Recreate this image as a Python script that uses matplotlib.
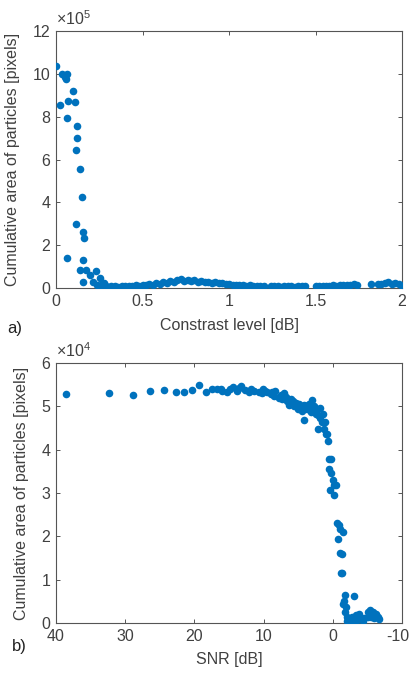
import numpy as np
import matplotlib
matplotlib.use('Agg')
import matplotlib.pyplot as plt
import matplotlib.transforms as mtransforms

plt.rcParams['font.family'] = ['Liberation Sans', 'DejaVu Sans']
plt.rcParams['mathtext.fontset'] = 'custom'
plt.rcParams['mathtext.rm'] = 'Liberation Sans'
plt.rcParams['axes.unicode_minus'] = False

# --- panel a) : cumulative area vs contrast level (values x 1e5) ---
contrast_head = [0.000, 0.025, 0.035, 0.050, 0.055, 0.064, 0.071, 0.061, 0.098, 0.110,
                 0.064, 0.119, 0.119, 0.117, 0.140, 0.150, 0.117, 0.158, 0.164, 0.158,
                 0.140, 0.173, 0.158, 0.198, 0.229, 0.252, 0.216, 0.275, 0.285, 0.304,
                 0.320, 0.235, 0.260]
area_head = [10.35, 8.55, 10.0, 9.85, 9.75, 10.0, 8.75, 7.95, 9.2, 8.7,
             1.40, 7.55, 7.00, 6.45, 5.55, 4.25, 3.00, 2.63, 2.35, 1.32,
             0.85, 0.85, 0.30, 0.60, 0.80, 0.48, 0.28, 0.25, 0.13, 0.05,
             0.08, 0.15, 0.12]

contrast_tail = [0.34, 0.36, 0.38, 0.40, 0.42, 0.44, 0.46, 0.48, 0.50, 0.52,
                 0.54, 0.56, 0.58, 0.60, 0.62, 0.64, 0.66, 0.68, 0.70, 0.72,
                 0.74, 0.76, 0.78, 0.80, 0.82, 0.84, 0.86, 0.88, 0.90, 0.92,
                 0.94, 0.96, 0.98, 1.00, 1.02, 1.04, 1.06, 1.08, 1.10, 1.12,
                 1.14, 1.16, 1.18, 1.20, 1.24, 1.26, 1.28, 1.30, 1.32, 1.34,
                 1.36, 1.38, 1.40, 1.42, 1.44, 1.50, 1.52, 1.54, 1.56, 1.58,
                 1.60, 1.62, 1.64, 1.66, 1.68, 1.70, 1.72, 1.74, 1.82, 1.86,
                 1.88, 1.90, 1.92, 1.94, 1.96, 1.98, 2.00]
area_tail = [0.10, 0.06, 0.09, 0.07, 0.11, 0.09, 0.13, 0.11, 0.15, 0.13,
             0.18, 0.16, 0.22, 0.20, 0.27, 0.25, 0.31, 0.29, 0.36, 0.40,
             0.34, 0.38, 0.33, 0.36, 0.30, 0.32, 0.27, 0.29, 0.24, 0.26,
             0.21, 0.22, 0.18, 0.20, 0.15, 0.16, 0.12, 0.14, 0.10, 0.12,
             0.09, 0.11, 0.08, 0.10, 0.08, 0.07, 0.09, 0.06, 0.08, 0.07,
             0.09, 0.06, 0.08, 0.07, 0.09, 0.08, 0.10, 0.09, 0.11, 0.10,
             0.12, 0.11, 0.13, 0.15, 0.12, 0.16, 0.18, 0.14, 0.17, 0.20,
             0.18, 0.22, 0.26, 0.19, 0.24, 0.17, 0.10]

# --- panel b) : cumulative area vs SNR (values x 1e4) ---
snr = [38.5, 32.4, 28.9, 26.4, 24.4, 22.7, 21.5, 20.3, 19.3, 18.4,
       17.5, 16.7, 16.0, 15.3, 14.4, 13.9, 13.3, 12.7, 12.1, 11.4,
       10.7, 10.05, 9.5, 9.0, 8.5, 8.3, 7.8, 7.3, 7.0, 6.6,
       6.4, 6.0, 5.6, 5.4, 5.1, 4.6, 4.15, 4.15, 3.7, 3.45,
       2.95, 3.2, 2.7, 2.46, 2.2, 2.2, 1.8, 1.45, 1.3, 1.1,
       1.0, 0.77, 0.85, 0.55, 0.3, 0.5, 0.3, 0.05, -0.1, -0.43,
       0.4, -0.2, -0.58, -0.9, -1.05, -1.4, -0.8, -1.05, -1.3, -1.16,
       -1.3, -1.74, -3.0, -1.64, -1.4, -1.9, -1.74, -2.1, -2.6, -3.3,
       -3.8, -4.55, -5.3, -5.75, -6.2, -6.5, -6.0, -2.8, -3.5, -2.35,
       -5.5, -4.0, -5.0, -6.6, -5.0, -2.0, -4.3, -3.0,
       11.8, 10.3, 9.8, 8.8, 7.5, 6.8, 6.2, 5.8, 4.9, 4.4,
       3.9, 3.0, 2.5, 1.6, 1.9, 16.2, 14.9, 13.6]
area_snr = [5.28, 5.30, 5.26, 5.35, 5.37, 5.33, 5.32, 5.37, 5.49, 5.34,
            5.41, 5.40, 5.36, 5.33, 5.44, 5.36, 5.46, 5.37, 5.33, 5.36,
            5.33, 5.39, 5.33, 5.29, 5.25, 5.35, 5.20, 5.16, 5.31, 5.12,
            5.04, 5.16, 5.01, 5.08, 4.94, 5.01, 5.04, 4.68, 4.94, 5.05,
            5.14, 4.86, 5.01, 4.83, 4.79, 4.48, 4.72, 4.83, 4.48, 4.63,
            4.37, 4.20, 4.35, 3.79, 3.79, 3.56, 3.45, 3.30, 3.18, 3.18,
            3.08, 2.96, 2.30, 2.27, 2.18, 2.10, 1.93, 1.62, 1.60, 1.16,
            1.15, 0.65, 0.62, 0.51, 0.43, 0.37, 0.25, 0.14, 0.06, 0.18,
            0.21, 0.11, 0.29, 0.25, 0.21, 0.14, 0.11, 0.14, 0.06, 0.06,
            0.14, 0.11, 0.14, 0.10, 0.25, 0.05, 0.05, 0.02,
            5.40, 5.30, 5.36, 5.32, 5.27, 5.22, 5.10, 5.13, 5.06, 4.90,
            5.00, 4.92, 4.95, 4.65, 4.97, 5.40, 5.40, 5.42]

a_xticks = [0, 0.5, 1, 1.5, 2]
a_xticklabels = ['0', '0.5', '1', '1.5', '2']
a_yticks = [0, 2, 4, 6, 8, 10, 12]
b_xticks = [40, 30, 20, 10, 0, -10]
b_xticklabels = ['40', '30', '20', '10', '0', '-10']
b_yticks = [0, 1, 2, 3, 4, 5, 6]

blue = '#0072BD'
axis_col = '#555555'
text_col = '#404040'
fs = 11.5


def style_axes(ax):
    for sp in ax.spines.values():
        sp.set_color(axis_col)
        sp.set_linewidth(0.8)
    ax.tick_params(direction='in', length=3, width=0.7, color=axis_col,
                   labelcolor=text_col, labelsize=fs, top=True, right=True, pad=4)


fig = plt.figure(figsize=(4.12, 6.77), dpi=100)

ax1 = fig.add_axes([0.136, 0.5746, 0.840, 0.3796])
ax1.scatter(contrast_head + contrast_tail, area_head + area_tail, s=30, color=blue, linewidths=0, zorder=3)
ax1.set_xlim(0, 2)
ax1.set_ylim(0, 12)
ax1.set_xticks(a_xticks)
ax1.set_xticklabels(a_xticklabels)
ax1.set_yticks(a_yticks)
style_axes(ax1)
ax1.set_xlabel('Constrast level [dB]', fontsize=fs, color=text_col, labelpad=7)
ax1.set_ylabel('Cumulative area of particles [pixels]', fontsize=fs, color=text_col, labelpad=9)
ax1.text(0.0, 1.01, r'$\times10^{5}$', transform=ax1.transAxes, fontsize=fs, color=text_col,
         ha='left', va='bottom')
fig.text(0.018, 1 - 329 / 677, 'a)', fontsize=12, color='#222222', va='center')

ax2 = fig.add_axes([0.136, 0.0798, 0.840, 0.384])
ax2.scatter(snr, area_snr, s=30, color=blue, linewidths=0, zorder=3)
ax2.set_xlim(40, -10)
ax2.set_ylim(0, 6)
ax2.set_xticks(b_xticks)
ax2.set_xticklabels(b_xticklabels)
ax2.set_yticks(b_yticks)
style_axes(ax2)
# keep the last label (-10) inside the figure edge
last = ax2.get_xticklabels()[-1]
last.set_transform(last.get_transform() + mtransforms.ScaledTranslation(-4 / 100, 0, fig.dpi_scale_trans))
ax2.set_xlabel('SNR [dB]', fontsize=fs, color=text_col, labelpad=6)
ax2.set_ylabel('Cumulative area of particles [pixels]', fontsize=fs, color=text_col, labelpad=9)
ax2.text(0.0, 1.01, r'$\times10^{4}$', transform=ax2.transAxes, fontsize=fs, color=text_col,
         ha='left', va='bottom')
fig.text(0.03, 1 - 646 / 677, 'b)', fontsize=12, color='#222222', va='center')

fig.savefig('out.png', dpi=100)
